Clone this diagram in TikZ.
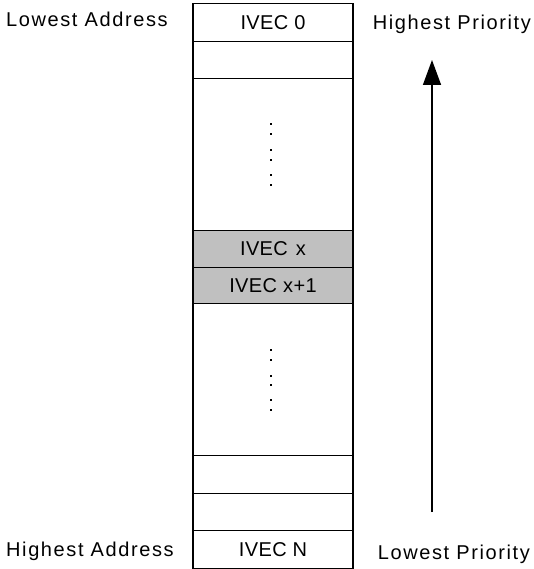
\documentclass[tikz,border=0pt]{standalone}
\usepackage{fontspec}
\setmainfont{Liberation Sans}
\newfontfamily\spacedfont[LetterSpace=8]{Liberation Sans}
\newfontfamily\cellfont[LetterSpace=2]{Liberation Sans}
\usetikzlibrary{arrows.meta}
\definecolor{cellgray}{RGB}{192,192,192}
\begin{document}
\begin{tikzpicture}[x=1pt,y=-1pt,
  cell/.style={draw=black,line width=1.2pt,minimum width=160pt,inner sep=0pt,anchor=north,
    font=\fontsize{20}{24}\cellfont},
  shaded/.style={cell,fill=cellgray},
  sidelabel/.style={inner sep=0pt,anchor=base west,font=\fontsize{20}{24}\spacedfont},
  dotmark/.style={fill=black}]
\useasboundingbox (0,0) rectangle (533,569);
\node[cell,minimum height=38pt] (r0) at (273,3) {IVEC 0};
\node[cell,minimum height=37pt] (r1) at (273,41) {};
\node[cell,minimum height=152pt] (r2) at (273,78) {};
\node[shaded,minimum height=37pt] (rx) at (273,230) {IVEC\hspace{0.4em}x};
\node[shaded,minimum height=36pt] (rx1) at (273,267) {IVEC x+1};
\node[cell,minimum height=152pt] (r3) at (273,303) {};
\node[cell,minimum height=38pt] (r4) at (273,455) {};
\node[cell,minimum height=37pt] (r5) at (273,493) {};
\node[cell,minimum height=38pt] (rN) at (273,530) {IVEC N};
\foreach \yy in {124.3,133.7,150.3,159.7,175.3,184.7,350,359.7,375.7,385,400.3,409.7}
  \fill[dotmark] (270,\yy-1) rectangle (272,\yy+1);
\node[sidelabel] (la) at (6,27) {Lowest Address};
\node[sidelabel] (ha) at (6,556) {Highest Address};
\node[sidelabel,anchor=base east] (hp) at (531,29.3) {Highest Priority};
\node[sidelabel,anchor=base east] (lp) at (530,559) {Lowest Priority};
\coordinate (arrbot) at (432,512);
\coordinate (arrtop) at (432,60);
\draw[line width=1.5pt,-{Triangle[length=25pt,width=18pt]}] (arrbot) -- (arrtop);
\end{tikzpicture}
\end{document}
